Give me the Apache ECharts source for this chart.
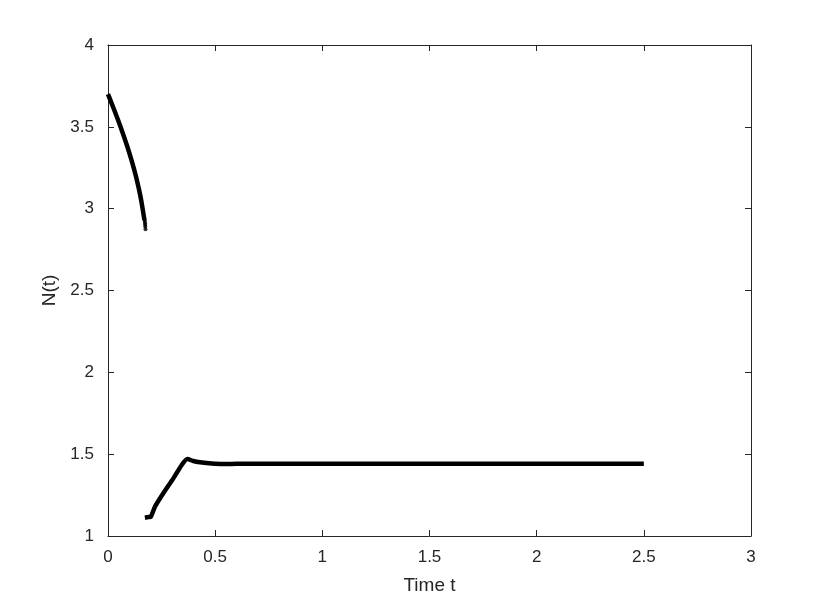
<!DOCTYPE html>
<html>
<head>
<meta charset="utf-8">
<script src="https://cdn.jsdelivr.net/npm/echarts@6/dist/echarts.min.js"></script>
<style>html,body{margin:0;padding:0;background:#fff}#c{width:830px;height:602px}</style>
</head>
<body>
<div id="c"></div>
<script>
// Branch 1 (decreasing, t from 0 to ~0.175)
const t1 = [0, 0.03, 0.06, 0.09, 0.11, 0.13, 0.145, 0.155, 0.162, 0.167, 0.17];
const n1 = [3.70, 3.60, 3.495, 3.38, 3.295, 3.20, 3.115, 3.05, 2.995, 2.955, 2.93];
// trailing sparse dots of branch 1
const t1dots = [0.171, 0.172, 0.173, 0.1735, 0.174, 0.175];
const n1dots = [2.93, 2.92, 2.91, 2.90, 2.89, 2.875];
// Branch 2 (rise, peak, plateau)
const t2 = [0.172, 0.19, 0.200, 0.219, 0.258, 0.305, 0.344, 0.370, 0.398, 0.429, 0.46, 0.50, 0.55, 0.60, 1.0, 1.5, 2.0, 2.5];
const n2 = [1.112, 1.116, 1.118, 1.179, 1.261, 1.352, 1.434, 1.470, 1.458, 1.450, 1.446, 1.442, 1.440, 1.441, 1.441, 1.441, 1.441, 1.441];
const xTicks = [0, 0.5, 1, 1.5, 2, 2.5, 3];
const yTicks = [1, 1.5, 2, 2.5, 3, 3.5, 4];

const zip = (a, b) => a.map((v, i) => [v, b[i]]);
const fontFam = '"Liberation Sans", Arial, sans-serif';
const axisCol = '#262626';
const fmt = v => String(v);

const chart = echarts.init(document.getElementById('c'), null, {renderer: 'canvas'});
chart.setOption({
  animation: false,
  backgroundColor: '#fff',
  grid: {left: 108, top: 45, right: 79, bottom: 66},
  xAxis: [{
    type: 'value', min: xTicks[0], max: xTicks[xTicks.length - 1], interval: 0.5,
    name: 'Time t', nameLocation: 'middle', nameGap: 40,
    nameTextStyle: {fontFamily: fontFam, fontSize: 19, color: '#262626'},
    axisLine: {show: true, onZero: false, lineStyle: {color: axisCol, width: 1}},
    axisTick: {show: true, inside: true, length: 6, lineStyle: {color: axisCol}},
    axisLabel: {fontFamily: fontFam, fontSize: 17, color: '#262626', margin: 13, formatter: fmt},
    splitLine: {show: false}
  }, {
    type: 'value', position: 'top', min: 0, max: 3, interval: 0.5,
    axisLine: {show: true, onZero: false, lineStyle: {color: axisCol, width: 1}},
    axisTick: {show: true, inside: true, length: 6, lineStyle: {color: axisCol}},
    axisLabel: {show: false}, splitLine: {show: false}
  }],
  yAxis: [{
    type: 'value', min: yTicks[0], max: yTicks[yTicks.length - 1], interval: 0.5,
    name: 'N(t)', nameLocation: 'middle', nameGap: 48, nameRotate: 90,
    nameTextStyle: {fontFamily: fontFam, fontSize: 19, color: '#262626'},
    axisLine: {show: true, onZero: false, lineStyle: {color: axisCol, width: 1}},
    axisTick: {show: true, inside: true, length: 6, lineStyle: {color: axisCol}},
    axisLabel: {fontFamily: fontFam, fontSize: 17, color: '#262626', margin: 14, formatter: fmt},
    splitLine: {show: false}
  }, {
    type: 'value', position: 'right', min: 1, max: 4, interval: 0.5,
    axisLine: {show: true, onZero: false, lineStyle: {color: axisCol, width: 1}},
    axisTick: {show: true, inside: true, length: 6, lineStyle: {color: axisCol}},
    axisLabel: {show: false}, splitLine: {show: false}
  }],
  series: [{
    type: 'line', data: zip(t1, n1), smooth: 0.3, showSymbol: false, symbol: 'none',
    lineStyle: {color: '#000', width: 4.5}, xAxisIndex: 0, yAxisIndex: 0
  }, {
    type: 'scatter', data: zip(t1dots, n1dots), symbolSize: 4,
    itemStyle: {color: '#000'}, xAxisIndex: 0, yAxisIndex: 0
  }, {
    type: 'line', data: zip(t2, n2), smooth: 0.2, showSymbol: false, symbol: 'none',
    lineStyle: {color: '#000', width: 4.5}, xAxisIndex: 0, yAxisIndex: 0
  }]
});
</script>
</body>
</html>
